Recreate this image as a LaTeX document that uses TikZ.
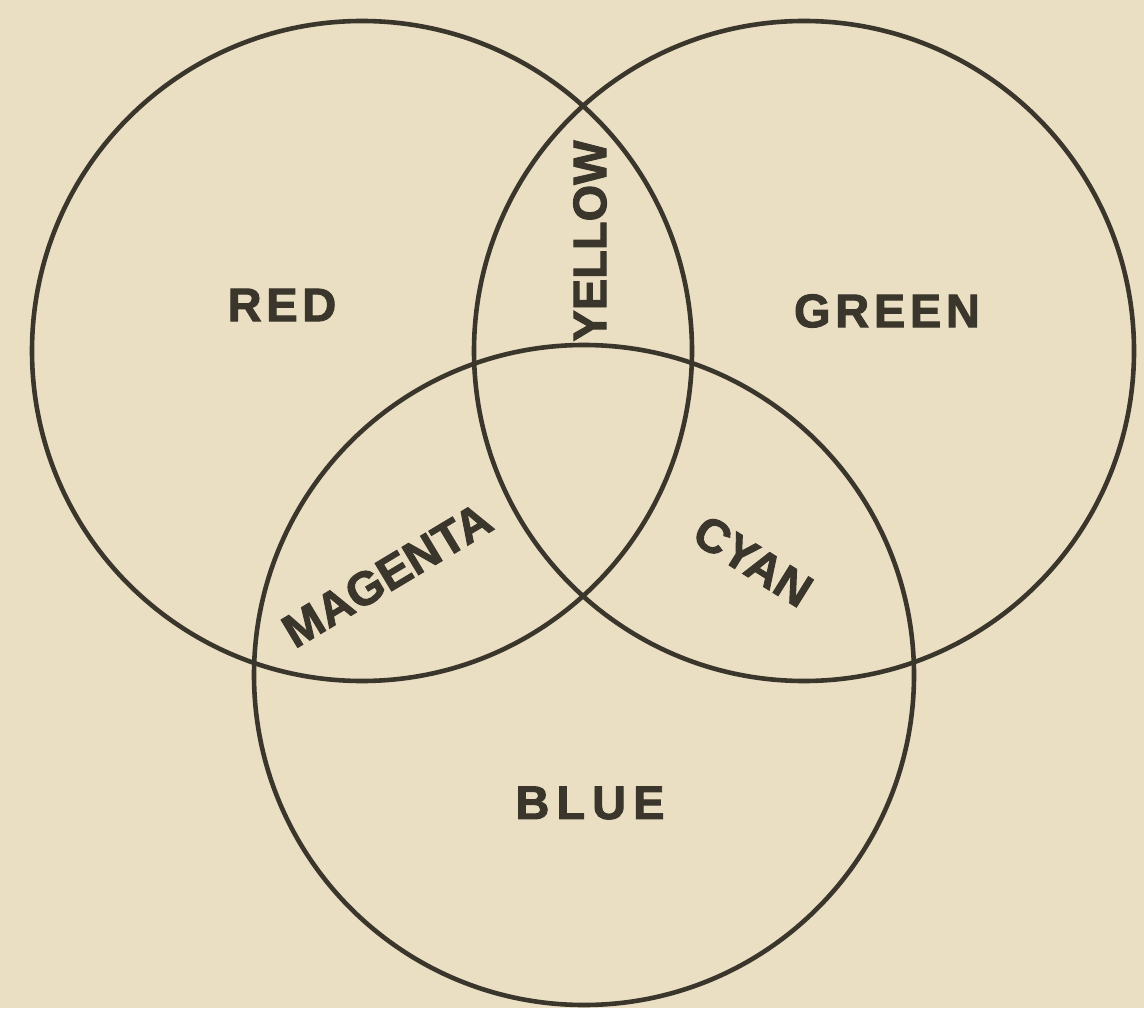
\documentclass[tikz,border=0pt]{standalone}
\usepackage{fontspec}
\setmainfont{Liberation Sans}[FakeBold=2]
\usepackage{tikz}
\usetikzlibrary{positioning, calc}
\definecolor{Paper}{HTML}{EBDFC3}
\definecolor{Ink}{HTML}{3B362C}
\tikzset{
    ring/.style={circle, draw=Ink, line width=2.3pt, minimum size=330pt, inner sep=0pt},
    flatlabel/.style={text=Ink, inner sep=0pt, font=\fontsize{23.5}{26}\selectfont\bfseries\addfontfeature{LetterSpace=10}},
    slantlabel/.style={text=Ink, inner sep=0pt, font=\fontsize{23.5}{26}\selectfont\bfseries},
}
\begin{document}
\begin{tikzpicture}[x=0.5pt, y=0.5pt]
    % Sfondo
    \fill[Paper] (0,0) rectangle (1144,1008);
    \useasboundingbox (0,0) rectangle (1144,1008);

    % --- Cerchi ---
    \node[ring] (red)   at (362, 657) {};
    \node[ring] (green) at (804, 657) {};
    \node[ring] (blue)  at (584, 333) {};

    % --- Colori primari ---
    \node[flatlabel] (redlbl)   at (282, 703) {RED};
    \node[flatlabel] (greenlbl) at (887, 697) {GREEN};
    \node[flatlabel, font=\fontsize{23.5}{26}\selectfont\bfseries\addfontfeature{LetterSpace=15}] (bluelbl) at (590, 205) {BLUE};

    % --- Intersezioni ---
    \node[slantlabel, rotate=90]  (yellowlbl)  at (590, 767) {YELLOW};
    \node[slantlabel, rotate=31]  (magentalbl) at (387, 433) {MAGENTA};
    \node[slantlabel, rotate=-32] (cyanlbl)    at (753, 447) {CYAN};
\end{tikzpicture}
\end{document}
